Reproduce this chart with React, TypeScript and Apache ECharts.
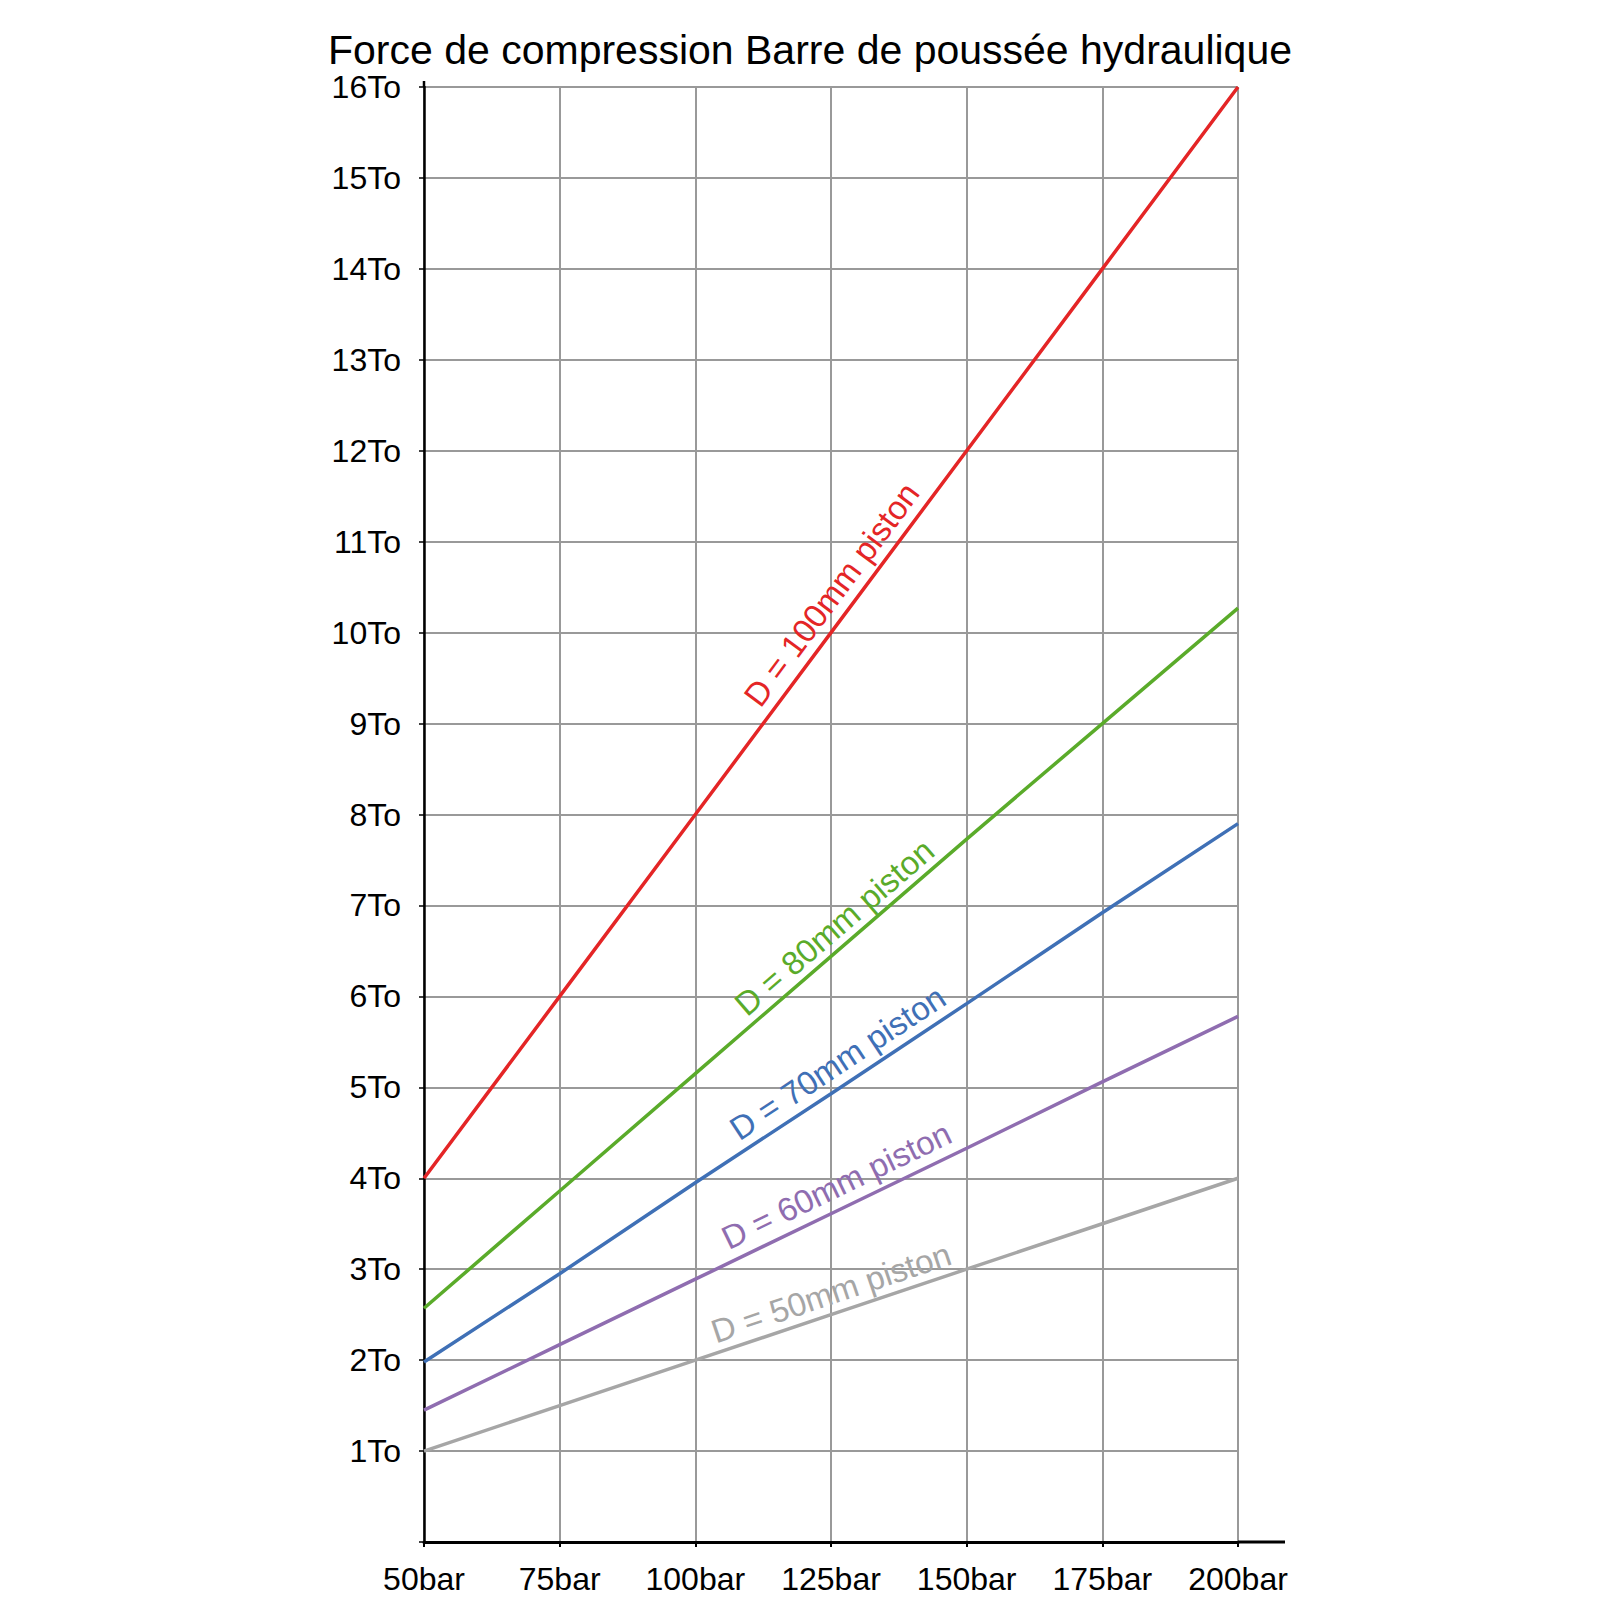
import React, { useEffect, useRef } from "react";
import * as echarts from "echarts";

const TITLE = "Force de compression Barre de poussée hydraulique";
const PRESSURES = [50, 75, 100, 125, 150, 175, 200];
const F_100 = [4, 6, 8, 10, 12, 14, 16];
const F_80 = [2.57, 3.86, 5.15, 6.44, 7.73, 9.0, 10.27];
const F_70 = [1.98, 2.95, 3.95, 4.93, 5.92, 6.92, 7.9];
const F_60 = [1.45, 2.17, 2.89, 3.61, 4.33, 5.06, 5.78];
const F_50 = [1, 1.5, 2, 2.5, 3, 3.5, 4];

const SERIES_NAMES = [
  "D = 100mm piston",
  "D = 80mm piston",
  "D = 70mm piston",
  "D = 60mm piston",
  "D = 50mm piston",
];
const SERIES_VALUES = [F_100, F_80, F_70, F_60, F_50];
const SERIES_COLORS = ["#e42526", "#5aab2a", "#3f70b6", "#8f6db0", "#a6a6a6"];
// label centres in data coordinates [bar, To]
const LABEL_P = [125.1, 125.6, 126.2, 126.0, 125.0];
const LABEL_F = [10.42, 6.76, 5.27, 3.92, 2.74];

const FONT = "'Liberation Sans', Arial, Helvetica, sans-serif";

export default function App() {
  const ref = useRef<HTMLDivElement>(null);

  useEffect(() => {
    if (!ref.current) return;
    const chart = echarts.init(ref.current, undefined, { renderer: "svg" });
    const GRID = { left: 424, top: 87, width: 814, height: 1455 };

    chart.setOption({
      animation: false,
      backgroundColor: "#ffffff",
      title: {
        text: TITLE,
        left: 805,
        top: 24,
        textAlign: "center",
        textStyle: { fontFamily: FONT, fontSize: 41, fontWeight: "normal", color: "#000" },
      },
      grid: GRID,
      xAxis: {
        type: "value",
        min: 50,
        max: 200,
        interval: 25,
        axisLine: { show: true, lineStyle: { color: "#000", width: 3 } },
        axisTick: { show: true, length: 5, lineStyle: { color: "#000", width: 2 } },
        axisLabel: {
          margin: 21,
          fontFamily: FONT,
          fontSize: 32,
          color: "#000",
          formatter: (v: number) => v + "bar",
        },
        splitLine: { show: true, lineStyle: { color: "#999999", width: 2 } },
      },
      yAxis: {
        type: "value",
        min: 0,
        max: 16,
        interval: 1,
        axisLine: { show: true, lineStyle: { color: "#000", width: 2.5 } },
        axisTick: { show: true, length: 5, lineStyle: { color: "#000", width: 1.5 } },
        axisLabel: {
          margin: 23,
          fontFamily: FONT,
          fontSize: 32,
          color: "#000",
          formatter: (v: number) => (v === 0 ? "" : v + "To"),
        },
        splitLine: { show: true, lineStyle: { color: "#999999", width: 2 } },
      },
      series: SERIES_VALUES.map((vals, i) => ({
        type: "line",
        name: SERIES_NAMES[i],
        data: PRESSURES.map((p, j) => [p, vals[j]]),
        symbol: "none",
        lineStyle: { color: SERIES_COLORS[i], width: 3.5 },
        z: 5,
      })),
    });

    const toPx = (p: number, f: number) =>
      chart.convertToPixel({ gridIndex: 0 }, [p, f]) as number[];

    const graphics: any[] = [];
    const origin = toPx(50, 0);
    const xEnd = toPx(200, 0);
    const yTop = toPx(50, 16);
    graphics.push({
      type: "line",
      shape: { x1: xEnd[0], y1: origin[1], x2: xEnd[0] + 47, y2: origin[1] },
      style: { stroke: "#000", lineWidth: 3 },
      z: 10,
    });
    graphics.push({
      type: "line",
      shape: { x1: yTop[0], y1: yTop[1], x2: yTop[0], y2: yTop[1] - 6 },
      style: { stroke: "#000", lineWidth: 2.5 },
      z: 10,
    });

    SERIES_VALUES.forEach((vals, i) => {
      const a = toPx(PRESSURES[0], vals[0]);
      const b = toPx(PRESSURES[PRESSURES.length - 1], vals[vals.length - 1]);
      const angle = Math.atan2(a[1] - b[1], b[0] - a[0]);
      const c = toPx(LABEL_P[i], LABEL_F[i]);
      graphics.push({
        type: "text",
        x: c[0],
        y: c[1],
        rotation: angle,
        z: 20,
        style: {
          text: SERIES_NAMES[i],
          fill: SERIES_COLORS[i],
          fontFamily: FONT,
          fontSize: 33,
          align: "center",
          verticalAlign: "middle",
          textAlign: "center",
          textVerticalAlign: "middle",
        },
      });
    });

    chart.setOption({ graphic: graphics });

    return () => chart.dispose();
  }, []);

  return (
    <div
      ref={ref}
      style={{ position: "absolute", left: 0, top: 0, width: 1620, height: 1620 }}
    />
  );
}
